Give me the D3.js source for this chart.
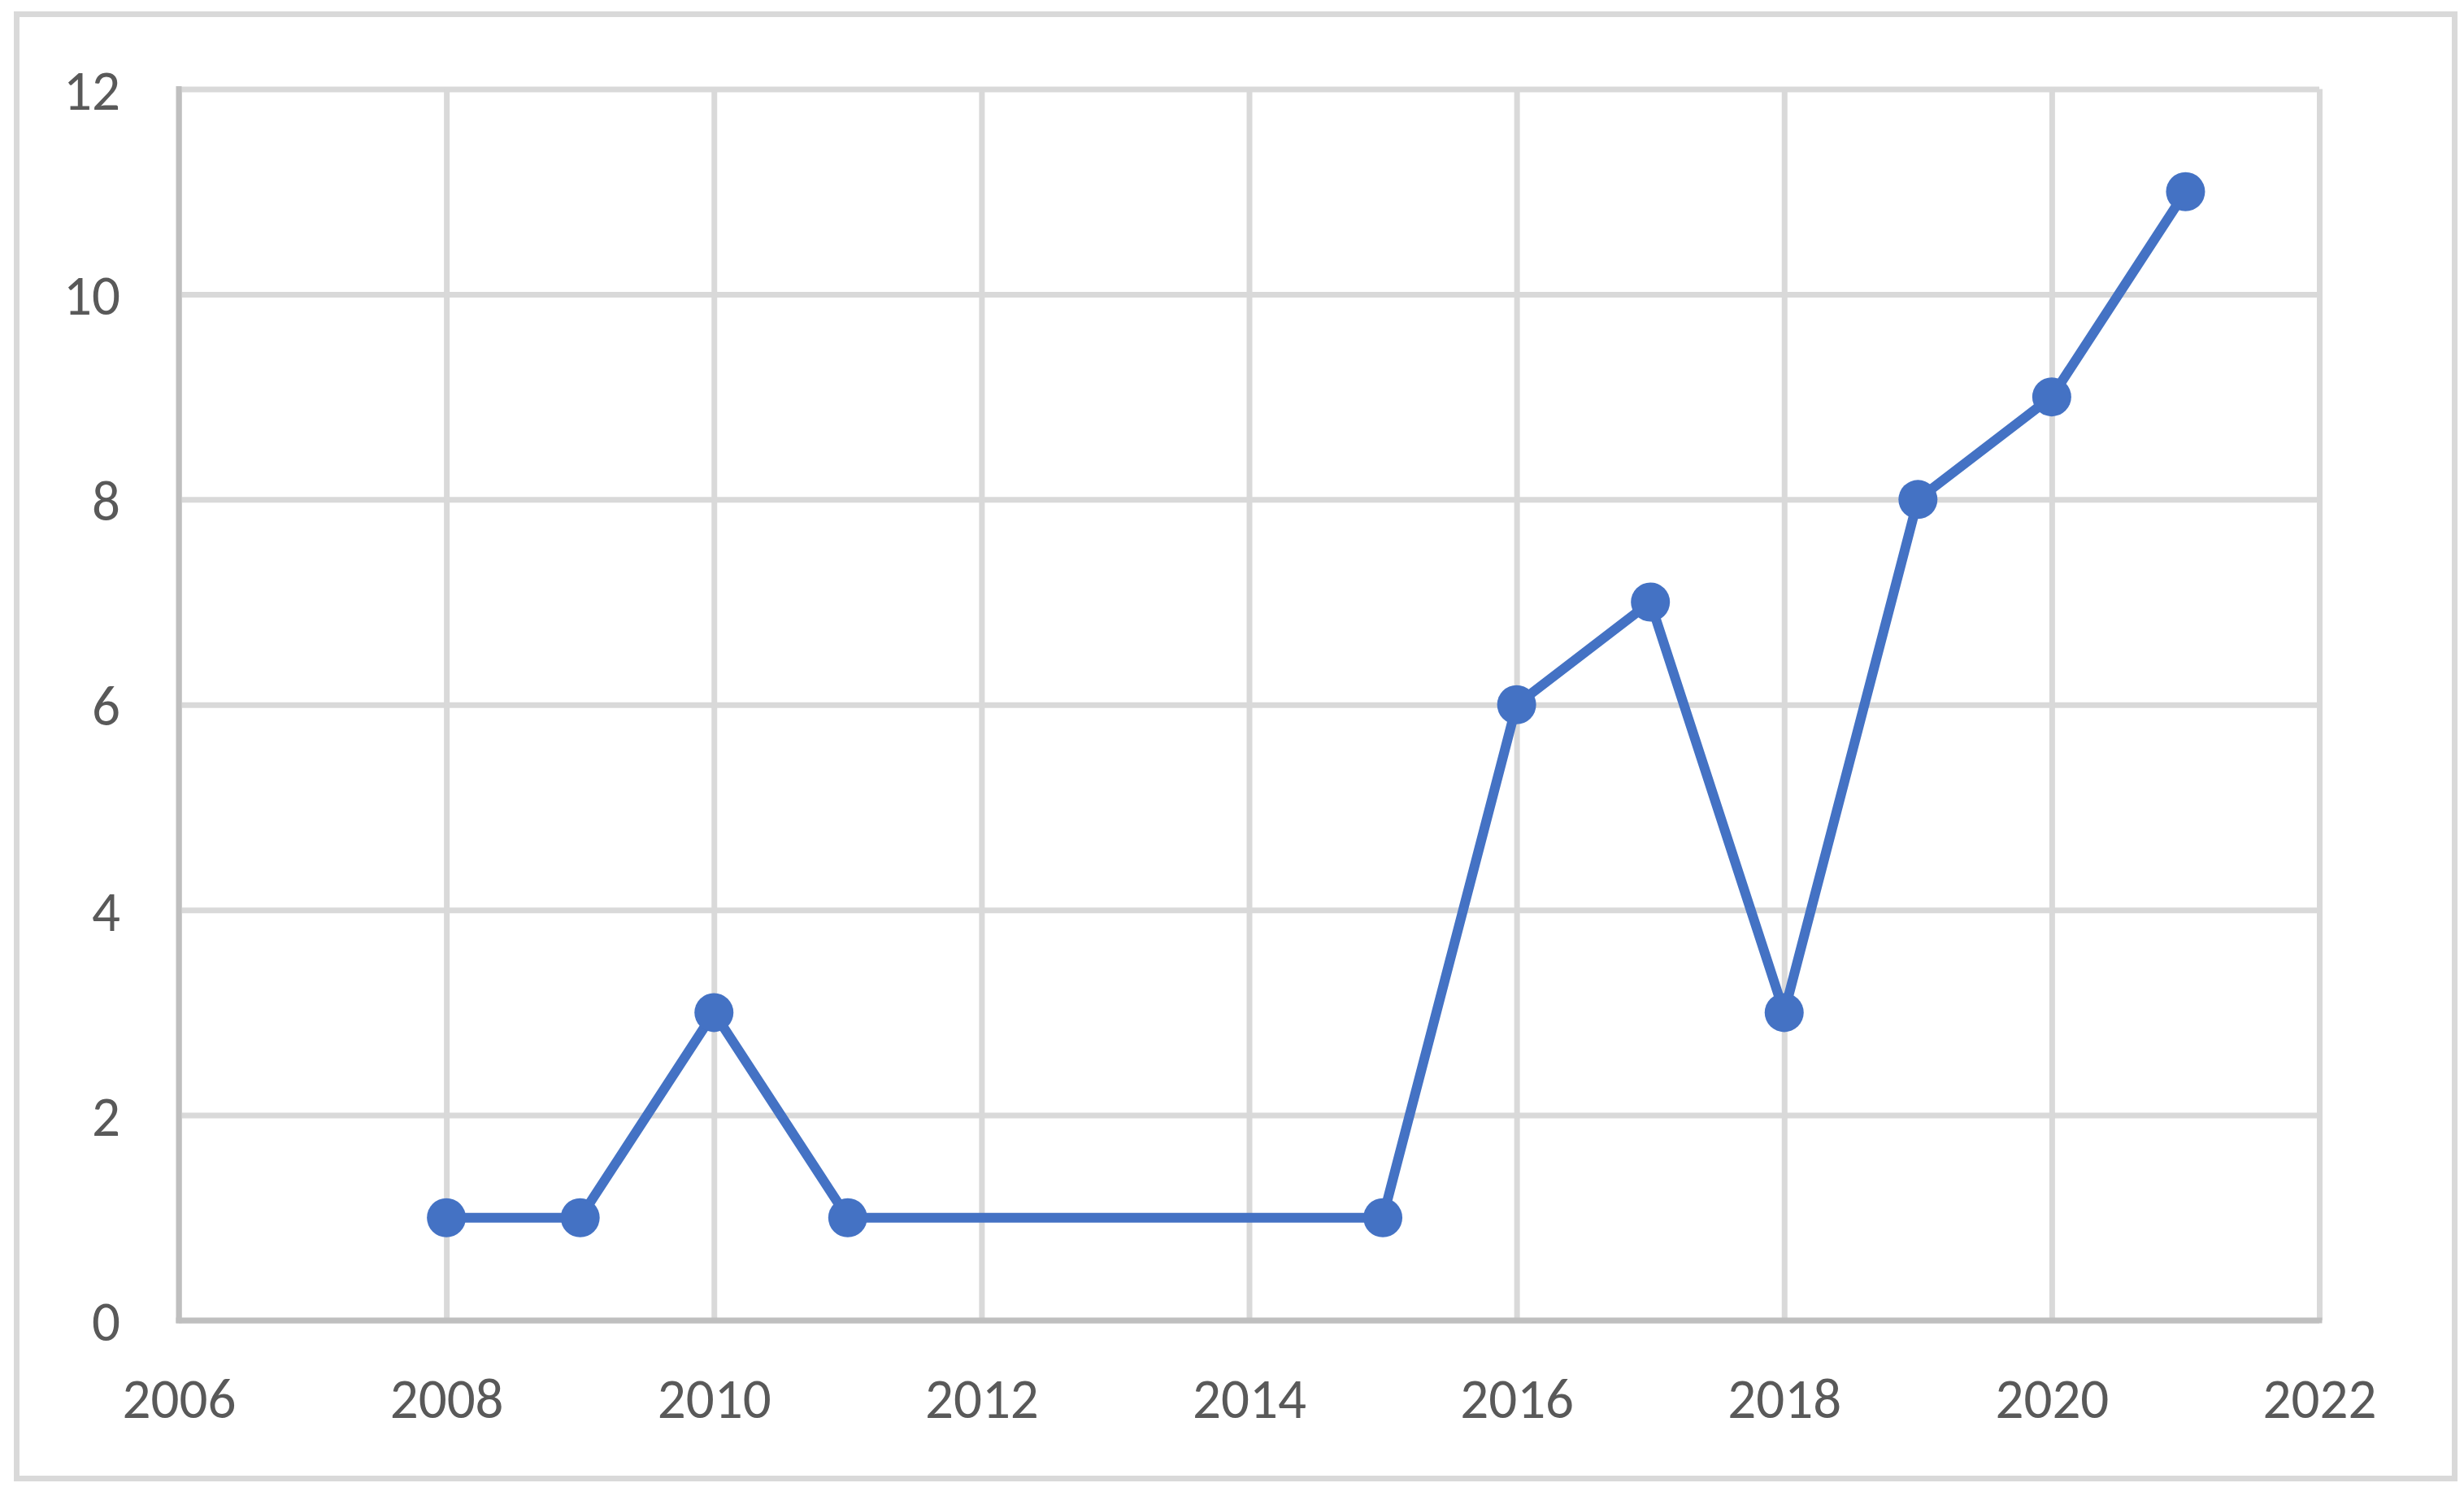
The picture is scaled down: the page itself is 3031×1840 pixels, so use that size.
<!DOCTYPE html>
<html>
<head>
<meta charset="utf-8">
<script src="https://cdn.jsdelivr.net/npm/d3@7"></script>
<style>
    body { margin: 0; background: #fff; }
    text { font-family: Calibri, Carlito, Lato, sans-serif; }
</style>
</head>
<body>
<script>
const years = [2008, 2009, 2010, 2011, 2015, 2016, 2017, 2018, 2019, 2020, 2021];
const counts = [1, 1, 3, 1, 1, 6, 7, 3, 8, 9, 11];
const xTicks = [2006, 2008, 2010, 2012, 2014, 2016, 2018, 2020, 2022];
const yTicks = [0, 2, 4, 6, 8, 10, 12];

(function() {
    const width = 3031, height = 1840;
    const left = 220, right = 2853, top = 109.5, bottom = 1624;
    const gridColor = '#d9d9d9', axisColor = '#bfbfbf', textColor = '#595959';
    const blue = '#4472C4';

    const svg = d3.select('body')
        .append('svg')
        .attr('width', width)
        .attr('height', height);

    // chart border
    svg.append('rect')
        .attr('x', 20.5)
        .attr('y', 17.5)
        .attr('width', 2999)
        .attr('height', 1801)
        .attr('fill', '#fff')
        .attr('stroke', gridColor)
        .attr('stroke-width', 7);

    const x = d3.scaleLinear().domain([2006, 2022]).range([left, right]);
    const y = d3.scaleLinear().domain([0, 12]).range([bottom, top]);

    const yAxis = svg.append('g')
        .attr('transform', `translate(${left},0)`)
        .call(d3.axisLeft(y).tickValues(yTicks).tickSize(-(right - left)).tickPadding(72));
    yAxis.select('.domain').remove();
    yAxis.selectAll('line').attr('stroke', gridColor).attr('stroke-width', 7);
    yAxis.selectAll('text')
        .attr('fill', textColor)
        .attr('dy', '0.36em')
        .style('font-size', '69px');

    const xAxis = svg.append('g')
        .attr('transform', `translate(0,${bottom})`)
        .call(d3.axisBottom(x).tickValues(xTicks).tickFormat(d3.format('d')).tickSize(-(bottom - top)).tickPadding(71));
    xAxis.select('.domain').remove();
    xAxis.selectAll('line').attr('stroke', gridColor).attr('stroke-width', 7);
    xAxis.selectAll('text')
        .attr('fill', textColor)
        .style('font-size', '69px');

    // axis lines
    svg.append('line')
        .attr('x1', left).attr('x2', left)
        .attr('y1', top - 3.5).attr('y2', bottom + 3.5)
        .attr('stroke', axisColor).attr('stroke-width', 7);
    svg.append('line')
        .attr('x1', left - 3.5).attr('x2', right + 3.5)
        .attr('y1', bottom).attr('y2', bottom)
        .attr('stroke', axisColor).attr('stroke-width', 7);

    const points = years.map((d, i) => ({year: d, value: counts[i]}));

    const line = d3.line()
        .x(d => x(d.year))
        .y(d => y(d.value));

    svg.append('path')
        .datum(points)
        .attr('d', line)
        .attr('fill', 'none')
        .attr('stroke', blue)
        .attr('stroke-width', 12)
        .attr('stroke-linejoin', 'round');

    svg.selectAll('.dot')
        .data(points)
        .enter()
        .append('circle')
        .attr('class', 'dot')
        .attr('cx', d => x(d.year))
        .attr('cy', d => y(d.value))
        .attr('r', 24)
        .attr('fill', blue);
})();
</script>
</body>
</html>
